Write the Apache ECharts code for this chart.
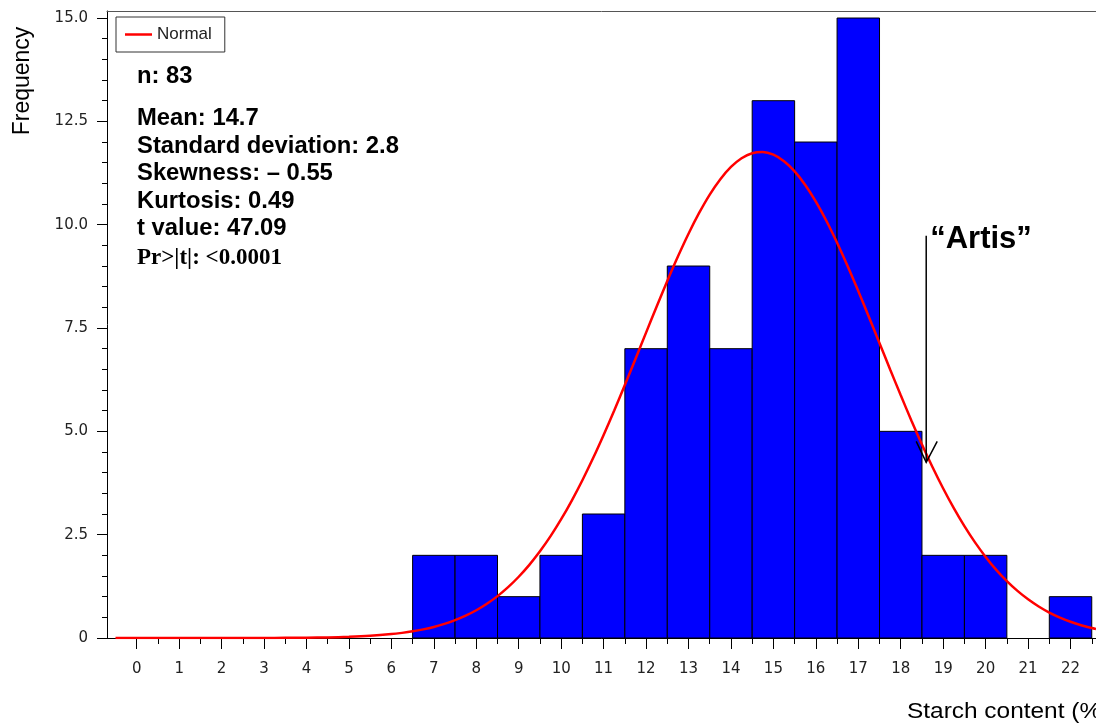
<!DOCTYPE html>
<html>
<head>
<meta charset="utf-8">
<title>Starch content</title>
<script src="https://cdn.jsdelivr.net/npm/echarts@6/dist/echarts.min.js"></script>
<style>
  html, body { margin: 0; padding: 0; background: #fff; }
  #chart { width: 1096px; height: 724px; }
</style>
</head>
<body>
<div id="chart"></div>
<script>
// histogram classes (centre of each 1 % class) and counts, n = 83
const binCenters = [7, 8, 9, 10, 11, 12, 13, 14, 15, 16, 17, 18, 19, 20, 21, 22];
const binCounts  = [2, 2, 1, 2, 3, 7, 9, 7, 13, 12, 15, 5, 2, 2, 0, 1];
const binWidth = 1;

// fitted normal curve (every 0.5 % in the flat tail, every 0.25 % after)
const curveX = [-0.5, 0, 0.5, 1, 1.5, 2, 2.5, 3, 3.5, 4, 4.5, 5, 5.5,
  6, 6.25, 6.5, 6.75, 7, 7.25, 7.5, 7.75, 8, 8.25, 8.5, 8.75, 9, 9.25, 9.5, 9.75,
  10, 10.25, 10.5, 10.75, 11, 11.25, 11.5, 11.75, 12, 12.25, 12.5, 12.75, 13, 13.25, 13.5, 13.75,
  14, 14.25, 14.5, 14.75, 15, 15.25, 15.5, 15.75, 16, 16.25, 16.5, 16.75, 17, 17.25, 17.5, 17.75,
  18, 18.25, 18.5, 18.75, 19, 19.25, 19.5, 19.75, 20, 20.25, 20.5, 20.75, 21, 21.25, 21.5, 21.75,
  22, 22.25, 22.5, 22.6];
const curveY = [0, 0, 0, 0, 0, 0, 0, 0.001, 0.004, 0.008, 0.015, 0.029, 0.053,
  0.094, 0.124, 0.161, 0.209, 0.268, 0.341, 0.431, 0.540, 0.671, 0.828, 1.013, 1.230, 1.482, 1.769, 2.097, 2.464,
  2.874, 3.326, 3.818, 4.347, 4.912, 5.505, 6.121, 6.752, 7.388, 8.020, 8.638, 9.228, 9.781, 10.284, 10.729, 11.102,
  11.398, 11.609, 11.730, 11.758, 11.693, 11.535, 11.290, 10.962, 10.558, 10.090, 9.564, 8.995, 8.393, 7.768, 7.133, 6.498,
  5.872, 5.264, 4.682, 4.131, 3.617, 3.141, 2.706, 2.313, 1.962, 1.649, 1.376, 1.139, 0.936, 0.763, 0.616, 0.494,
  0.393, 0.310, 0.243, 0.220];

// axis ticks
const xTickValues = [0, 1, 2, 3, 4, 5, 6, 7, 8, 9, 10, 11, 12, 13, 14, 15, 16, 17, 18, 19, 20, 21, 22];
const xHalfTicks = [0.5, 1.5, 2.5, 3.5, 4.5, 5.5, 6.5, 7.5, 8.5, 9.5, 10.5, 11.5, 12.5,
  13.5, 14.5, 15.5, 16.5, 17.5, 18.5, 19.5, 20.5, 21.5, 22.5];
const yTickValues = [0, 2.5, 5, 7.5, 10, 12.5, 15];

// "Artis" arrow: x position, top and tip (data units)
const artisArrow = [18.6, 9.73, 4.25];

// summary statistics box
const statLines = ['n: 83', 'Mean: 14.7', 'Standard deviation: 2.8', 'Skewness: \u2013 0.55',
  'Kurtosis: 0.49', 't value: 47.09'];
const probLine = 'Pr>|t|: <0.0001';

const xMin = -0.7, xMax = 22.6, yMax = 15.17;

const chart = echarts.init(document.getElementById('chart'));
const sans = '"Liberation Sans", Arial, Helvetica, sans-serif';
const tickFont = { fontFamily: 'DejaVu Sans', fontSize: 15, color: '#222' };

const graphic = [];
statLines.forEach((t, i) => {
  graphic.push({
    type: 'text', x: 137, y: i === 0 ? 77 : 119 + (i - 1) * 27.5, scaleX: 1.035,
    style: { text: t, font: 'bold 23px ' + sans, fill: '#000', verticalAlign: 'middle' }
  });
});
graphic.push({
  type: 'text', x: 137, y: 258,
  style: { text: probLine, font: 'bold 23px "Liberation Serif", "Times New Roman", serif', fill: '#000', verticalAlign: 'middle' }
});
graphic.push({//y轴标题
  type: 'text', x: 23, y: 81, rotation: Math.PI / 2,
  style: { text: 'Frequency', font: '23px ' + sans, fill: '#000', align: 'center', verticalAlign: 'middle' }
});
graphic.push({//x轴标题, 右端被画面裁掉
  type: 'text', x: 907, y: 712, scaleX: 1.11,
  style: { text: 'Starch content (%)', font: '22px ' + sans, fill: '#000', align: 'left', verticalAlign: 'middle' }
});

const option = {
  animation: false,
  backgroundColor: '#fff',
  grid: { left: 107, right: 0, top: 11, bottom: 86, containLabel: false, outerBoundsMode: 'none' },
  legend: {
    data: [{ name: 'Normal', icon: 'rect' }],
    left: 116, top: 17,
    orient: 'horizontal',
    padding: [9, 13, 9, 9],
    borderColor: '#333', borderWidth: 1,
    itemWidth: 27, itemHeight: 2.5,
    itemStyle: { color: '#ff0000', borderWidth: 0 },
    textStyle: { fontFamily: sans, fontSize: 17, color: '#222' },
    selectedMode: false
  },
  xAxis: [
    {
      type: 'value', min: xMin, max: xMax, position: 'bottom',
      axisLine: { show: true, onZero: false, lineStyle: { color: '#000', width: 1 } },
      axisTick: { show: true, customValues: xTickValues, length: 11, lineStyle: { color: '#000' } },
      axisLabel: { customValues: xTickValues, margin: 24, ...tickFont },
      splitLine: { show: false }
    },
    {
      type: 'value', min: xMin, max: xMax, position: 'bottom',
      axisLine: { show: false, onZero: false },
      axisTick: { show: true, customValues: xHalfTicks, length: 6, lineStyle: { color: '#000' } },
      axisLabel: { show: false },
      splitLine: { show: false }
    },
    {
      type: 'value', min: xMin, max: xMax, position: 'top',
      axisLine: { show: true, onZero: false, lineStyle: { color: '#555', width: 1 } },
      axisTick: { show: false },
      axisLabel: { show: false },
      splitLine: { show: false }
    }
  ],
  yAxis: {
    type: 'value', min: 0, max: yMax, interval: 2.5,
    axisLine: { show: true, onZero: false, lineStyle: { color: '#000', width: 1 } },
    axisTick: { show: true, customValues: yTickValues, length: 10, lineStyle: { color: '#000' } },
    minorTick: { show: true, splitNumber: 5, length: 5, lineStyle: { color: '#000' } },
    axisLabel: {
      customValues: yTickValues, margin: 19, ...tickFont,
      formatter: v => (v === 0 ? '0' : v.toFixed(1))
    },
    splitLine: { show: false },
    minorSplitLine: { show: false }
  },
  graphic: graphic,
  series: [
    {
      type: 'custom',
      xAxisIndex: 0, yAxisIndex: 0,
      silent: true, z: 2,
      data: binCenters.map((c, i) => [c, binCounts[i]]),
      renderItem: function (params, api) {
        const c = api.value(0);
        const v = api.value(1);
        if (!v) return;
        const p0 = api.coord([c - binWidth / 2, v]);
        const p1 = api.coord([c + binWidth / 2, 0]);
        return {
          type: 'rect',
          shape: { x: p0[0], y: p0[1], width: p1[0] - p0[0], height: p1[1] - p0[1] },
          style: { fill: '#0000ff', stroke: '#000', lineWidth: 1 }
        };
      }
    },
    {
      name: 'Normal',
      type: 'line',
      xAxisIndex: 0, yAxisIndex: 0,
      smooth: 0.3,
      symbol: 'none', showSymbol: false,
      z: 3,
      lineStyle: { color: '#ff0000', width: 2.5 },
      itemStyle: { color: '#ff0000' },
      data: curveX.map((x, i) => [x, curveY[i]])
    },
    {
      type: 'custom',
      xAxisIndex: 0, yAxisIndex: 0,
      silent: true, z: 4,
      data: [artisArrow],
      renderItem: function (params, api) {
        const top = api.coord([api.value(0), api.value(1)]);
        const tip = api.coord([api.value(0), api.value(2)]);
        return {
          type: 'group',
          children: [
            { type: 'line', shape: { x1: top[0], y1: top[1], x2: tip[0], y2: tip[1] },
              style: { stroke: '#000', lineWidth: 1.5 } },
            { type: 'polyline', shape: { points: [[tip[0] - 10, tip[1] - 21], tip, [tip[0] + 11, tip[1] - 21]] },
              style: { stroke: '#000', lineWidth: 1.5, fill: null } },
            { type: 'text', x: top[0] + 4, y: top[1] + 4,
              style: { text: '\u201cArtis\u201d', font: 'bold 31px ' + sans, fill: '#000', align: 'left', verticalAlign: 'middle' } }
          ]
        };
      }
    }
  ]
};
chart.setOption(option);
</script>
</body>
</html>
